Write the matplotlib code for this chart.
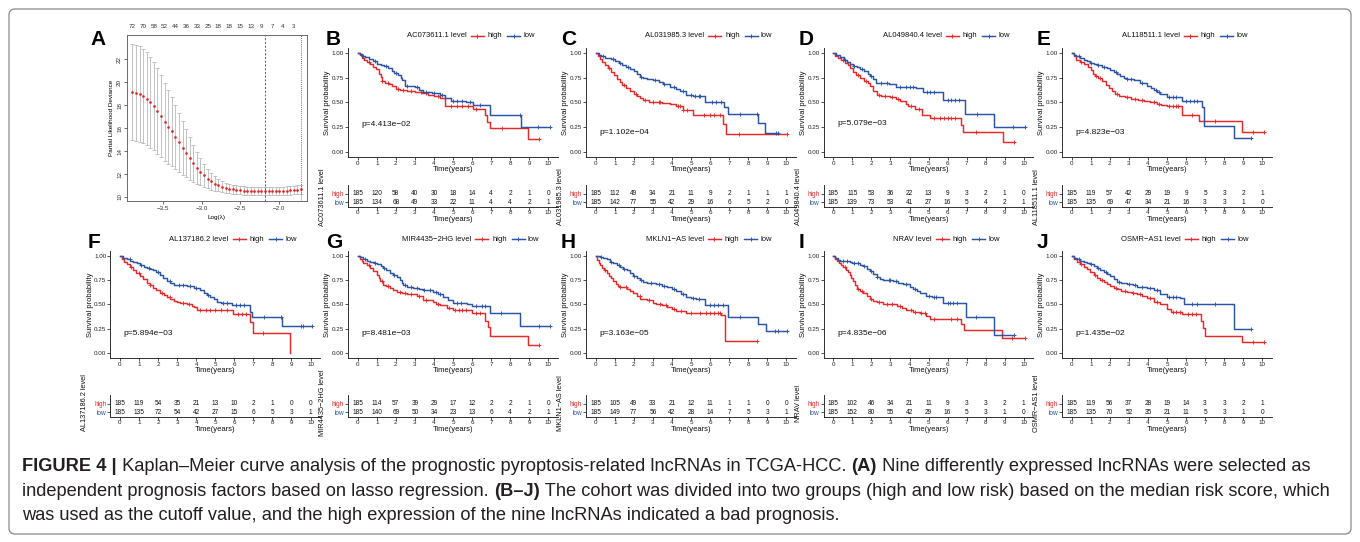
import numpy as np
import matplotlib
matplotlib.use('Agg')
import matplotlib.pyplot as plt
from matplotlib.patches import FancyBboxPatch
from matplotlib.transforms import IdentityTransform

W, H = 1360, 542
plt.rcParams['font.family'] = ['Liberation Sans', 'DejaVu Sans']
plt.rcParams['axes.unicode_minus'] = True

RED = '#E8292A'
BLUE = '#2C54A4'

# ---------------- Panel A : lasso cross-validation ----------------
lasso_loglambda = [-3.900, -3.853, -3.807, -3.760, -3.714, -3.667, -3.620, -3.574, -3.527, -3.481,
                   -3.434, -3.387, -3.341, -3.294, -3.248, -3.201, -3.154, -3.108, -3.061, -3.015,
                   -2.968, -2.921, -2.875, -2.828, -2.782, -2.735, -2.688, -2.642, -2.595, -2.549,
                   -2.502, -2.455, -2.409, -2.362, -2.316, -2.269, -2.222, -2.176, -2.129, -2.083,
                   -2.036, -1.989, -1.943, -1.896, -1.850, -1.803, -1.756, -1.710]
lasso_mean = [19.12, 19.06, 18.95, 18.80, 18.55, 18.25, 17.90, 17.48, 17.02, 16.55,
              16.12, 15.70, 15.25, 14.78, 14.28, 13.80, 13.35, 12.92, 12.55, 12.20,
              11.88, 11.60, 11.36, 11.17, 11.02, 10.90, 10.80, 10.73, 10.67, 10.62,
              10.59, 10.56, 10.54, 10.52, 10.51, 10.50, 10.49, 10.49, 10.49, 10.50,
              10.51, 10.52, 10.54, 10.56, 10.58, 10.61, 10.64, 10.67]
lasso_se = [4.20, 4.18, 4.15, 4.10, 4.03, 3.95, 3.85, 3.72, 3.57, 3.40,
            3.22, 3.02, 2.80, 2.57, 2.33, 2.08, 1.84, 1.60, 1.38, 1.18,
            1.00, 0.85, 0.72, 0.62, 0.54, 0.48, 0.44, 0.41, 0.39, 0.38,
            0.37, 0.36, 0.35, 0.35, 0.35, 0.35, 0.35, 0.35, 0.35, 0.35,
            0.35, 0.36, 0.36, 0.37, 0.37, 0.38, 0.39, 0.40]
lasso_nz = ['72', '70', '58', '52', '44', '36', '33', '25', '18', '18', '15', '13', '9', '7', '4', '3']
lasso_lambda_min = -2.18
lasso_lambda_1se = -1.71

# ---------------- Panels B-J : Kaplan-Meier ----------------
km_letters = ['B', 'C', 'D', 'E', 'F', 'G', 'H', 'I', 'J']
km_genes = ['AC073611.1', 'AL031985.3', 'AL049840.4', 'AL118511.1', 'AL137186.2',
            'MIR4435\u22122HG', 'MKLN1\u2212AS', 'NRAV', 'OSMR\u2212AS1']
km_pvals = ['p=4.413e\u221202', 'p=1.102e\u221204', 'p=5.079e\u221203', 'p=4.823e\u221203',
            'p=5.894e\u221203', 'p=8.481e\u221203', 'p=3.163e\u221205', 'p=4.835e\u221206',
            'p=1.435e\u221202']
km_pval_y = [0.28, 0.20, 0.29, 0.20, 0.20, 0.20, 0.20, 0.20, 0.20]
time_ticks = [0, 1, 2, 3, 4, 5, 6, 7, 8, 9, 10]

B_high_t = [0, 0.1, 0.2, 0.35, 0.5, 0.65, 0.8, 0.95, 1.1, 1.2, 1.3, 1.45, 1.65, 1.8, 2.0, 2.2, 2.6, 3.0, 3.4, 3.7, 4.0, 4.3, 4.6, 6.05, 6.7, 6.8, 6.95, 8.92, 9.5]
B_high_s = [1.0, 0.98, 0.95, 0.93, 0.91, 0.89, 0.86, 0.84, 0.79, 0.76, 0.72, 0.70, 0.69, 0.67, 0.64, 0.63, 0.62, 0.61, 0.60, 0.58, 0.57, 0.55, 0.46, 0.43, 0.37, 0.30, 0.245, 0.125, 0.125]
B_high_c = [0.6, 1.3, 1.6, 2.1, 2.4, 2.8, 3.3, 3.6, 4.2, 4.9, 5.2, 5.5, 5.8, 6.2, 7.55, 9.5]
B_low_t = [0, 0.1, 0.25, 0.4, 0.6, 0.8, 1.0, 1.2, 1.4, 1.6, 1.8, 1.9, 2.1, 2.25, 2.35, 2.5, 3.0, 3.2, 3.45, 3.9, 4.3, 4.6, 4.9, 5.7, 6.05, 6.95, 8.55, 10.1]
B_low_s = [1.0, 0.99, 0.97, 0.96, 0.94, 0.92, 0.89, 0.88, 0.87, 0.85, 0.82, 0.80, 0.78, 0.75, 0.73, 0.67, 0.66, 0.63, 0.61, 0.60, 0.58, 0.55, 0.52, 0.51, 0.47, 0.37, 0.25, 0.25]
B_low_c = [0.3, 0.9, 1.5, 2.0, 2.6, 3.1, 3.6, 4.0, 4.4, 5.0, 5.2, 5.5, 5.9, 6.4, 8.5, 9.45, 10.1]

C_high_t = [0, 0.1, 0.2, 0.35, 0.5, 0.65, 0.8, 0.95, 1.1, 1.25, 1.4, 1.6, 1.8, 2.0, 2.15, 2.3, 2.5, 2.8, 3.2, 3.5, 3.9, 4.2, 4.6, 5.1, 6.7, 6.85, 10.05]
C_high_s = [1.0, 0.97, 0.94, 0.91, 0.88, 0.85, 0.81, 0.78, 0.74, 0.71, 0.68, 0.65, 0.62, 0.59, 0.57, 0.55, 0.53, 0.51, 0.50, 0.49, 0.48, 0.46, 0.42, 0.37, 0.28, 0.18, 0.18]
C_high_c = [0.7, 1.5, 2.1, 2.6, 3.0, 3.3, 3.4, 4.3, 4.45, 4.6, 4.8, 5.7, 6.0, 6.2, 6.5, 7.5, 10.05]
C_low_t = [0, 0.15, 0.3, 0.5, 0.8, 1.0, 1.2, 1.4, 1.6, 1.8, 2.0, 2.15, 2.3, 2.5, 2.7, 3.0, 3.3, 3.55, 3.9, 4.2, 4.45, 4.75, 5.1, 5.75, 6.75, 6.95, 8.5, 8.9, 9.55]
C_low_s = [1.0, 0.98, 0.97, 0.95, 0.94, 0.92, 0.90, 0.88, 0.86, 0.84, 0.82, 0.79, 0.76, 0.75, 0.74, 0.73, 0.71, 0.69, 0.66, 0.64, 0.62, 0.58, 0.57, 0.51, 0.45, 0.38, 0.29, 0.19, 0.19]
C_low_c = [0.4, 0.9, 1.3, 1.7, 2.4, 3.1, 3.6, 4.1, 4.6, 5.0, 5.2, 5.4, 5.5, 6.1, 6.3, 6.6, 7.55, 8.45, 9.45, 9.55]

D_high_t = [0, 0.1, 0.25, 0.4, 0.6, 0.75, 0.9, 1.05, 1.2, 1.4, 1.6, 1.8, 1.95, 2.1, 2.3, 2.5, 3.0, 3.3, 3.5, 3.8, 3.9, 4.3, 4.65, 5.05, 6.7, 6.8, 8.9, 9.5]
D_high_s = [1.0, 0.97, 0.95, 0.93, 0.90, 0.88, 0.85, 0.81, 0.78, 0.75, 0.72, 0.70, 0.67, 0.62, 0.58, 0.57, 0.56, 0.54, 0.52, 0.48, 0.46, 0.43, 0.37, 0.34, 0.27, 0.20, 0.10, 0.10]
D_high_c = [0.5, 1.3, 1.7, 2.4, 2.7, 3.1, 3.4, 4.1, 4.5, 5.3, 5.6, 5.8, 6.0, 6.2, 6.4, 7.5, 9.5]
D_low_t = [0, 0.15, 0.35, 0.55, 0.7, 0.9, 1.05, 1.25, 1.4, 1.6, 1.8, 1.95, 2.1, 2.25, 2.95, 3.3, 4.35, 4.7, 5.75, 6.9, 8.45, 10.05]
D_low_s = [1.0, 0.98, 0.96, 0.93, 0.91, 0.89, 0.87, 0.86, 0.84, 0.82, 0.79, 0.77, 0.74, 0.70, 0.69, 0.66, 0.65, 0.61, 0.53, 0.38, 0.25, 0.25]
D_low_c = [0.6, 1.1, 1.5, 2.0, 2.5, 2.8, 3.5, 3.8, 4.0, 4.2, 4.9, 5.1, 5.3, 6.0, 6.2, 6.4, 6.6, 7.55, 9.45, 10.05]

E_high_t = [0, 0.1, 0.25, 0.45, 0.65, 0.85, 1.0, 1.1, 1.2, 1.4, 1.6, 1.8, 1.95, 2.1, 2.25, 2.5, 2.8, 3.1, 3.5, 3.8, 4.1, 4.5, 4.7, 5.0, 5.8, 6.7, 8.93, 10.1]
E_high_s = [1.0, 0.97, 0.93, 0.91, 0.89, 0.86, 0.83, 0.79, 0.77, 0.75, 0.72, 0.68, 0.65, 0.62, 0.59, 0.57, 0.56, 0.54, 0.53, 0.52, 0.50, 0.48, 0.47, 0.46, 0.37, 0.31, 0.20, 0.20]
E_high_c = [0.5, 1.3, 1.5, 2.4, 2.9, 3.3, 3.7, 4.3, 4.6, 5.1, 5.3, 5.5, 5.6, 6.3, 7.5, 9.5, 10.1]
E_low_t = [0, 0.1, 0.25, 0.45, 0.62, 0.8, 0.97, 1.15, 1.32, 1.6, 1.85, 2.0, 2.2, 2.4, 2.55, 2.75, 2.9, 3.25, 3.6, 3.95, 4.15, 4.3, 4.5, 4.66, 5.0, 5.8, 6.85, 6.93, 8.52, 9.4]
E_low_s = [1.0, 0.98, 0.97, 0.95, 0.93, 0.92, 0.90, 0.89, 0.88, 0.86, 0.85, 0.83, 0.81, 0.79, 0.77, 0.75, 0.74, 0.73, 0.70, 0.67, 0.65, 0.63, 0.61, 0.59, 0.56, 0.52, 0.45, 0.26, 0.14, 0.14]
E_low_c = [0.4, 1.0, 1.4, 1.7, 2.3, 2.9, 3.1, 3.7, 4.4, 4.6, 5.1, 5.3, 5.5, 6.0, 6.2, 6.4, 6.6, 9.4]

F_high_t = [0, 0.1, 0.2, 0.35, 0.5, 0.7, 0.85, 1.05, 1.2, 1.4, 1.55, 1.75, 1.9, 2.1, 2.3, 2.46, 2.65, 2.81, 3.0, 3.16, 3.5, 3.8, 3.9, 4.05, 5.95, 6.85, 6.97, 8.9, 8.9]
F_high_s = [1.0, 0.97, 0.94, 0.91, 0.88, 0.85, 0.82, 0.79, 0.76, 0.72, 0.70, 0.67, 0.65, 0.62, 0.60, 0.58, 0.56, 0.54, 0.53, 0.52, 0.50, 0.48, 0.47, 0.44, 0.40, 0.32, 0.21, 0.0, 0.0]
F_high_c = [0.6, 1.0, 1.6, 2.2, 2.6, 3.3, 3.6, 4.2, 4.5, 4.7, 5.0, 5.3, 5.6, 6.2, 6.4, 6.6, 7.5]
F_low_t = [0, 0.15, 0.35, 0.55, 0.7, 0.9, 1.05, 1.25, 1.4, 1.6, 1.75, 1.9, 2.1, 2.25, 2.46, 2.65, 2.81, 3.5, 3.86, 4.21, 4.4, 4.56, 4.75, 4.91, 5.09, 5.3, 5.88, 6.84, 6.93, 8.5, 10.1]
F_low_s = [1.0, 0.98, 0.97, 0.95, 0.94, 0.92, 0.90, 0.88, 0.87, 0.86, 0.85, 0.83, 0.80, 0.77, 0.74, 0.72, 0.70, 0.69, 0.67, 0.65, 0.62, 0.60, 0.58, 0.56, 0.53, 0.52, 0.49, 0.42, 0.37, 0.28, 0.28]
F_low_c = [0.5, 1.1, 1.5, 2.0, 2.6, 3.1, 3.3, 3.7, 4.0, 4.6, 5.4, 5.6, 6.1, 6.3, 6.5, 7.55, 8.45, 9.5, 9.6, 10.1]

G_high_t = [0, 0.1, 0.2, 0.3, 0.5, 0.65, 0.8, 1.0, 1.1, 1.17, 1.35, 1.5, 1.7, 1.85, 2.05, 2.3, 2.57, 3.1, 3.44, 3.97, 4.1, 4.32, 4.67, 5.0, 5.98, 6.68, 6.82, 6.94, 8.92, 9.5]
G_high_s = [1.0, 0.97, 0.95, 0.93, 0.90, 0.87, 0.84, 0.80, 0.77, 0.74, 0.70, 0.69, 0.67, 0.65, 0.63, 0.62, 0.61, 0.59, 0.55, 0.53, 0.51, 0.49, 0.46, 0.44, 0.41, 0.33, 0.27, 0.18, 0.09, 0.09]
G_high_c = [0.6, 1.3, 1.6, 2.2, 2.5, 2.8, 3.2, 3.6, 4.2, 4.8, 5.1, 5.3, 5.5, 5.7, 6.2, 6.4, 9.5]
G_low_t = [0, 0.1, 0.3, 0.5, 0.65, 0.85, 1.0, 1.2, 1.35, 1.5, 1.7, 1.85, 2.05, 2.2, 2.3, 2.4, 2.6, 2.92, 3.2, 3.44, 3.97, 4.2, 4.49, 4.75, 5.0, 5.72, 5.98, 6.94, 8.51, 10.1]
G_low_s = [1.0, 0.99, 0.97, 0.95, 0.94, 0.92, 0.91, 0.89, 0.87, 0.85, 0.82, 0.80, 0.78, 0.75, 0.72, 0.70, 0.68, 0.67, 0.66, 0.65, 0.63, 0.61, 0.58, 0.55, 0.52, 0.50, 0.48, 0.41, 0.28, 0.28]
G_low_c = [0.4, 0.9, 1.4, 1.9, 2.5, 2.8, 3.1, 3.5, 3.8, 4.1, 4.3, 5.2, 5.4, 6.2, 6.5, 6.7, 7.5, 9.5, 10.1]

H_high_t = [0, 0.08, 0.15, 0.23, 0.35, 0.45, 0.58, 0.7, 0.8, 0.92, 1.05, 1.15, 1.27, 1.62, 1.8, 1.97, 2.15, 2.32, 2.67, 3.0, 3.19, 3.5, 3.72, 4.0, 4.24, 4.76, 6.6, 6.77, 8.46]
H_high_s = [1.0, 0.96, 0.93, 0.90, 0.87, 0.85, 0.82, 0.79, 0.77, 0.74, 0.71, 0.69, 0.68, 0.66, 0.64, 0.62, 0.59, 0.56, 0.55, 0.52, 0.51, 0.49, 0.47, 0.45, 0.43, 0.41, 0.39, 0.13, 0.13]
H_high_c = [0.5, 1.3, 1.6, 2.3, 2.8, 3.4, 3.7, 4.1, 4.5, 5.0, 5.5, 5.8, 6.0, 6.2, 6.4, 6.5, 8.46]
H_low_t = [0, 0.2, 0.4, 0.58, 0.75, 0.92, 1.1, 1.27, 1.45, 1.62, 1.8, 1.97, 2.15, 2.32, 2.5, 2.67, 3.19, 3.5, 3.72, 4.0, 4.24, 4.5, 4.76, 5.0, 5.29, 5.72, 6.94, 8.52, 8.92, 10.05]
H_low_s = [1.0, 0.99, 0.98, 0.97, 0.94, 0.92, 0.90, 0.88, 0.86, 0.85, 0.82, 0.79, 0.77, 0.75, 0.73, 0.72, 0.71, 0.69, 0.68, 0.66, 0.64, 0.61, 0.58, 0.57, 0.56, 0.49, 0.37, 0.30, 0.23, 0.23]
H_low_c = [0.3, 0.8, 1.2, 1.5, 2.0, 2.4, 2.9, 3.3, 3.6, 4.1, 4.6, 5.1, 5.4, 6.0, 6.2, 6.4, 6.7, 7.55, 9.4, 9.55, 10.05]

I_high_t = [0, 0.08, 0.17, 0.3, 0.42, 0.52, 0.65, 0.75, 0.87, 0.95, 1.05, 1.12, 1.22, 1.4, 1.57, 1.75, 1.92, 2.1, 2.27, 2.6, 2.97, 3.32, 3.6, 3.84, 4.2, 4.54, 4.89, 5.06, 6.72, 6.84, 8.87, 10.05]
I_high_s = [1.0, 0.97, 0.95, 0.92, 0.90, 0.88, 0.85, 0.83, 0.80, 0.77, 0.74, 0.70, 0.66, 0.64, 0.62, 0.59, 0.56, 0.54, 0.53, 0.51, 0.50, 0.48, 0.46, 0.44, 0.42, 0.41, 0.38, 0.35, 0.30, 0.24, 0.16, 0.16]
I_high_c = [0.6, 1.3, 1.5, 2.0, 2.4, 2.8, 3.1, 3.5, 4.1, 4.3, 4.6, 4.8, 5.3, 6.2, 6.5, 9.4, 10.05]
I_low_t = [0, 0.1, 0.25, 0.35, 0.87, 1.0, 1.22, 1.4, 1.57, 1.75, 1.92, 2.1, 2.27, 2.45, 2.62, 3.14, 3.4, 3.66, 4.01, 4.2, 4.4, 4.54, 4.89, 5.2, 5.76, 6.95, 8.46, 9.51]
I_low_s = [1.0, 0.98, 0.96, 0.95, 0.94, 0.93, 0.92, 0.90, 0.89, 0.86, 0.84, 0.81, 0.78, 0.76, 0.75, 0.74, 0.72, 0.71, 0.68, 0.66, 0.64, 0.62, 0.59, 0.58, 0.52, 0.37, 0.19, 0.19]
I_low_c = [0.5, 0.7, 1.1, 1.3, 1.6, 2.0, 2.3, 2.9, 3.0, 3.3, 3.8, 4.3, 5.0, 5.3, 5.4, 6.0, 6.1, 6.3, 6.5, 7.5, 9.51]

J_high_t = [0, 0.1, 0.26, 0.45, 0.62, 0.8, 0.97, 1.15, 1.32, 1.5, 1.67, 1.85, 2.02, 2.2, 2.37, 2.6, 2.9, 3.2, 3.43, 3.7, 3.95, 4.31, 4.66, 5.0, 5.2, 5.8, 6.77, 6.9, 6.98, 8.93, 10.1]
J_high_s = [1.0, 0.97, 0.94, 0.91, 0.88, 0.86, 0.83, 0.80, 0.77, 0.75, 0.73, 0.71, 0.69, 0.67, 0.66, 0.64, 0.63, 0.62, 0.61, 0.59, 0.57, 0.53, 0.50, 0.45, 0.42, 0.40, 0.33, 0.26, 0.18, 0.12, 0.12]
J_high_c = [0.5, 1.2, 1.6, 2.3, 2.8, 3.2, 3.6, 4.1, 4.5, 5.3, 5.5, 5.7, 6.1, 6.3, 6.5, 9.5, 10.1]
J_low_t = [0, 0.1, 0.26, 0.45, 0.62, 0.8, 0.97, 1.15, 1.32, 1.5, 1.67, 1.85, 2.02, 2.2, 2.37, 2.6, 2.9, 3.2, 3.43, 3.95, 4.31, 4.66, 5.0, 5.71, 5.89, 8.52, 9.42]
J_low_s = [1.0, 0.98, 0.97, 0.95, 0.94, 0.92, 0.91, 0.89, 0.87, 0.85, 0.83, 0.81, 0.79, 0.76, 0.73, 0.72, 0.71, 0.70, 0.68, 0.67, 0.65, 0.61, 0.58, 0.57, 0.50, 0.25, 0.25]
J_low_c = [0.4, 1.0, 1.4, 1.8, 2.5, 3.0, 3.3, 3.7, 4.1, 4.5, 5.1, 5.3, 5.5, 6.3, 6.6, 7.5, 9.42]

risk_high = [
    [185, 120, 58, 40, 30, 18, 14, 4, 2, 1, 0],
    [185, 112, 49, 34, 21, 11, 9, 2, 1, 1, 1],
    [185, 115, 53, 36, 22, 13, 9, 3, 2, 1, 0],
    [185, 119, 57, 42, 29, 19, 9, 5, 3, 2, 1],
    [185, 119, 54, 35, 21, 13, 10, 2, 1, 0, 0],
    [185, 114, 57, 39, 29, 17, 12, 2, 2, 1, 0],
    [185, 105, 49, 33, 21, 12, 11, 1, 1, 0, 0],
    [185, 102, 46, 34, 21, 11, 9, 3, 3, 2, 1],
    [185, 119, 56, 37, 28, 19, 14, 3, 3, 2, 1],
]
risk_low = [
    [185, 134, 68, 49, 33, 22, 11, 4, 4, 2, 1],
    [185, 142, 77, 55, 42, 29, 16, 6, 5, 2, 0],
    [185, 139, 73, 53, 41, 27, 16, 5, 4, 2, 1],
    [185, 135, 69, 47, 34, 21, 16, 3, 3, 1, 0],
    [185, 135, 72, 54, 42, 27, 15, 6, 5, 3, 1],
    [185, 140, 69, 50, 34, 23, 13, 6, 4, 2, 1],
    [185, 149, 77, 56, 42, 28, 14, 7, 5, 3, 1],
    [185, 152, 80, 55, 42, 29, 16, 5, 3, 1, 0],
    [185, 135, 70, 52, 35, 21, 11, 5, 3, 1, 0],
]

caption_lines = [
    [("FIGURE 4 |", True), (" Kaplan\u2013Meier curve analysis of the prognostic pyroptosis-related lncRNAs in TCGA-HCC. ", False),
     ("(A)", True), (" Nine differently expressed lncRNAs were selected as", False)],
    [("independent prognosis factors based on lasso regression. ", False), ("(B\u2013J)", True),
     (" The cohort was divided into two groups (high and low risk) based on the median risk score, which", False)],
    [("was used as the cutoff value, and the high expression of the nine lncRNAs indicated a bad prognosis.", False)],
]

# ---------------- helpers ----------------
fig = plt.figure(figsize=(W / 100, H / 100), dpi=100)
fig.patch.set_facecolor('white')
renderer = fig.canvas.get_renderer()


def ax_px(l, t, r, b):
    return fig.add_axes([l / W, 1 - b / H, (r - l) / W, (b - t) / H])


def ftext(x, y, s, **kw):
    return fig.text(x / W, 1 - y / H, s, **kw)


# outer frame
frame = FancyBboxPatch((9, H - 534), 1342, 525, boxstyle='round,pad=0,rounding_size=6',
                       transform=IdentityTransform(), facecolor='none', edgecolor='#8a8a8a', lw=0.9)
fig.patches.append(frame)

TXT = '#111111'

# ---------------- Panel A ----------------
axA = ax_px(127, 35, 307, 201)
axA.errorbar(lasso_loglambda, lasso_mean, yerr=lasso_se, fmt='none', ecolor='#b9b9b9',
             elinewidth=0.6, capsize=1.4, capthick=0.6)
axA.plot(lasso_loglambda, lasso_mean, 'o', color='#E62020', ms=1.9, mew=0)
axA.axvline(lasso_lambda_min, color='#444444', lw=0.6, ls=(0, (2.5, 2)))
axA.axvline(lasso_lambda_1se, color='#444444', lw=0.6, ls=(0, (1, 1.5)))
axA.set_xlim(-3.97, -1.63)
axA.set_ylim(9.65, 24.1)
axA.set_xticks([-3.5, -3.0, -2.5, -2.0])
axA.set_xticklabels(['\u22123.5', '\u22123.0', '\u22122.5', '\u22122.0'])
axA.set_yticks([10, 12, 14, 16, 18, 20, 22])
axA.tick_params(axis='both', labelsize=4.5, length=2, width=0.5, pad=1.5, colors='#333333')
axA.tick_params(axis='y', labelrotation=90)
for lab in axA.get_yticklabels():
    lab.set_va('center')
for sp in axA.spines.values():
    sp.set_color('#555555')
    sp.set_linewidth(0.6)
axA.set_xlabel('Log(\u03bb)', fontsize=4.6, labelpad=3)
axA.set_ylabel('Partial Likelihood Deviance', fontsize=4.6, labelpad=2)
axT = axA.twiny()
axT.set_xlim(axA.get_xlim())
axT.set_xticks(lasso_loglambda[0::3])
axT.set_xticklabels(lasso_nz)
axT.tick_params(axis='x', labelsize=4.5, length=0, pad=4, colors='#333333')
for sp in axT.spines.values():
    sp.set_visible(False)
ftext(90, 45, 'A', fontsize=15, fontweight='bold', ha='left', va='baseline')

# ---------------- KM panels ----------------
COL_X0 = [120.0, 357.7, 595.7, 833.3, 1071.7]
PXY = 19.05
ROWS = [
    dict(kt=48.4, kb=156.6, tb=206.7, leg=35.7, lab=45, tlab=197),
    dict(kt=250.8, kb=358.2, tb=416.7, leg=239.3, lab=248, tlab=403),
]
TBL_YLIM = (0.47, 3.08)
TBL_SCALE = 8.31

km_data = {
    'B': (B_high_t, B_high_s, B_high_c, B_low_t, B_low_s, B_low_c),
    'C': (C_high_t, C_high_s, C_high_c, C_low_t, C_low_s, C_low_c),
    'D': (D_high_t, D_high_s, D_high_c, D_low_t, D_low_s, D_low_c),
    'E': (E_high_t, E_high_s, E_high_c, E_low_t, E_low_s, E_low_c),
    'F': (F_high_t, F_high_s, F_high_c, F_low_t, F_low_s, F_low_c),
    'G': (G_high_t, G_high_s, G_high_c, G_low_t, G_low_s, G_low_c),
    'H': (H_high_t, H_high_s, H_high_c, H_low_t, H_low_s, H_low_c),
    'I': (I_high_t, I_high_s, I_high_c, I_low_t, I_low_s, I_low_c),
    'J': (J_high_t, J_high_s, J_high_c, J_low_t, J_low_s, J_low_c),
}
panel_pos = {'B': (1, 0), 'C': (2, 0), 'D': (3, 0), 'E': (4, 0),
             'F': (0, 1), 'G': (1, 1), 'H': (2, 1), 'I': (3, 1), 'J': (4, 1)}

TICK_FS = 4.5
NUM_FS = 4.7
LAB_FS = 5.5


def style_axes(ax, pad=1.2):
    for side in ['top', 'right']:
        ax.spines[side].set_visible(False)
    for side in ['left', 'bottom']:
        ax.spines[side].set_color('#222222')
        ax.spines[side].set_linewidth(0.65)
    ax.tick_params(axis='both', labelsize=TICK_FS, length=2, width=0.55, pad=pad, colors='#222222')


def draw_curve(ax, t, s, c, color):
    ax.step(t, s, where='post', color=color, lw=1.05)
    t_arr = np.asarray(t)
    s_arr = np.asarray(s)
    idx = np.searchsorted(t_arr, np.asarray(c), side='right') - 1
    ax.plot(c, s_arr[idx], '+', color=color, ms=3.3, mew=0.65)


def legend(xc, y, title):
    fs = 5.5
    tt = ftext(0, y, title + ' level', fontsize=fs, ha='left', va='center', color=TXT)
    th = ftext(0, y, 'high', fontsize=fs, ha='left', va='center', color=TXT)
    tl = ftext(0, y, 'low', fontsize=fs, ha='left', va='center', color=TXT)
    wt = tt.get_window_extent(renderer).width
    wh = th.get_window_extent(renderer).width
    wl = tl.get_window_extent(renderer).width
    seg = 13
    total = wt + 4 + seg + 4 + wh + 5 + seg + 3 + wl
    x = xc - total / 2
    tt.set_x(x / W)
    x += wt + 4
    for color, lab_t, gap_after in [(RED, th, 5), (BLUE, tl, 0)]:
        fig.add_artist(plt.Line2D([x / W, (x + seg) / W], [1 - y / H, 1 - y / H], color=color, lw=1.05,
                                  transform=fig.transFigure))
        fig.add_artist(plt.Line2D([(x + seg / 2) / W], [1 - y / H], color=color, marker='+', ms=3.5,
                                  mew=0.7, transform=fig.transFigure))
        x += seg + (4 if color == RED else 3)
        lab_t.set_x(x / W)
        x += lab_t.get_window_extent(renderer).width + gap_after


LETTER_X = [88, 326, 561, 799, 1037]

for k, letter in enumerate(km_letters):
    col, row = panel_pos[letter]
    R = ROWS[row]
    x0 = COL_X0[col]
    l = x0 - 0.5 * PXY
    r = x0 + 10.5 * PXY
    hi_t, hi_s, hi_c, lo_t, lo_s, lo_c = km_data[letter]

    ax = ax_px(l, R['kt'], r, R['kb'])
    draw_curve(ax, hi_t, hi_s, hi_c, RED)
    draw_curve(ax, lo_t, lo_s, lo_c, BLUE)
    ax.set_xlim(-0.5, 10.5)
    ax.set_ylim(-0.05, 1.05)
    ax.set_xticks(time_ticks)
    ax.set_yticks([0, 0.25, 0.5, 0.75, 1.0])
    ax.set_yticklabels(['0.00', '0.25', '0.50', '0.75', '1.00'])
    style_axes(ax, pad=1.0)
    ax.text(0.2, km_pval_y[k], km_pvals[k], fontsize=6.0, ha='left', va='center', color=TXT)
    ax.set_xlabel('Time(years)', fontsize=LAB_FS, color=TXT)
    ax.xaxis.set_label_coords(0.5, -12.8 / (R['kb'] - R['kt']))
    ax.xaxis.label.set_va('center')
    ax.set_ylabel('Survival probability', fontsize=LAB_FS, color=TXT)
    ax.yaxis.label.set_va('center')
    ax.yaxis.set_label_coords(-0.097, 0.5)

    # risk table
    tt_top = R['tb'] - (TBL_YLIM[1] - TBL_YLIM[0]) * TBL_SCALE
    axt = ax_px(l, tt_top, r, R['tb'])
    axt.set_xlim(-0.5, 10.5)
    axt.set_ylim(*TBL_YLIM)
    for j, tv in enumerate(time_ticks):
        axt.text(tv, 2, str(risk_high[k][j]), fontsize=NUM_FS, ha='center', va='center', color=TXT)
        axt.text(tv, 1, str(risk_low[k][j]), fontsize=NUM_FS, ha='center', va='center', color=TXT)
    axt.set_xticks(time_ticks)
    axt.set_yticks([1, 2])
    axt.set_yticklabels(['low', 'high'])
    style_axes(axt, pad=0.6)
    axt.tick_params(axis='y', labelsize=NUM_FS, pad=1.0)
    for lab, c in zip(axt.get_yticklabels(), [BLUE, RED]):
        lab.set_color(c)
    axt.set_xlabel('Time(years)', fontsize=LAB_FS, color=TXT)
    axt.xaxis.set_label_coords(0.5, -12.6 / (R['tb'] - tt_top))
    axt.xaxis.label.set_va('center')
    ftext(x0 - 35, R['tlab'], km_genes[k] + ' level', fontsize=5.3, rotation=90,
          ha='center', va='center', color=TXT)

    legend(x0 + 113, R['leg'], km_genes[k])
    ftext(LETTER_X[col], R['lab'], letter, fontsize=15, fontweight='bold', ha='left', va='baseline')

# ---------------- caption ----------------
CAP_FONT = ['Liberation Sans Narrow', 'Liberation Sans', 'DejaVu Sans']
cap_fs = 14.0
probe = [ftext(0, 0, s, fontsize=cap_fs, family=CAP_FONT, fontweight='bold' if b else 'normal')
         for s, b in caption_lines[0]]
wsum = sum(p.get_window_extent(renderer).width for p in probe)
for p in probe:
    p.remove()
cap_fs = cap_fs * 1298.0 / wsum

cap_base = [471, 496, 520]
for line, yb in zip(caption_lines, cap_base):
    x = 22.0
    for s, b in line:
        t = ftext(x, yb, s, fontsize=cap_fs, family=CAP_FONT, fontweight='bold' if b else 'normal',
                  ha='left', va='baseline', color='#231f20')
        x += t.get_window_extent(renderer).width

fig.savefig('out.png', dpi=100, facecolor='white')
